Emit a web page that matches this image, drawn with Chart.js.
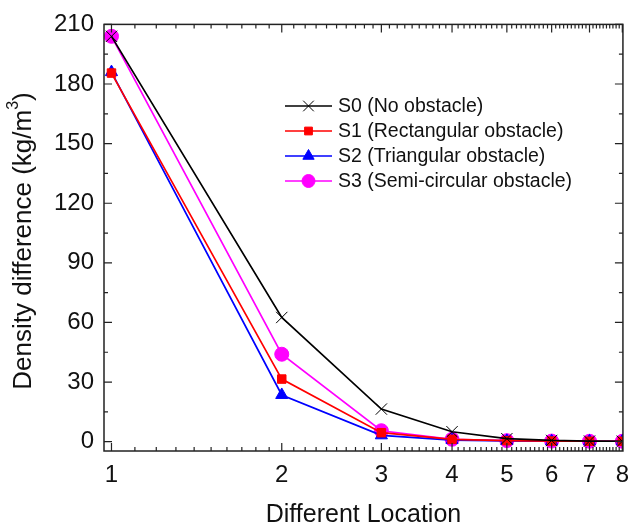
<!DOCTYPE html>
<html>
<head>
<meta charset="utf-8">
<script src="https://cdn.jsdelivr.net/npm/chart.js@4/dist/chart.umd.min.js"></script>
<style>
  html, body { margin: 0; padding: 0; background: #fff; }
  #wrap { width: 639px; height: 526px; }
</style>
</head>
<body>
<div id="wrap"><canvas id="chart" width="639" height="526"></canvas></div>
<script>
// ---- data ----
const locations = [1, 2, 3, 4, 5, 6, 7, 8];
const s0 = [204, 62.5, 16.4, 5, 1.5, 0.6, 0.3, 0.2];
const s1 = [185.5, 31.5, 4.5, 1.2, 0.5, 0.3, 0.2, 0.2];
const s2 = [186, 23.5, 3.2, 0.8, 0.4, 0.2, 0.2, 0.2];
const s3 = [204, 44, 5.5, 1.2, 0.5, 0.3, 0.2, 0.2];
const seriesNames = ["S0 (No obstacle)", "S1 (Rectangular obstacle)", "S2 (Triangular obstacle)", "S3 (Semi-circular obstacle)"];
const yTicks = [0, 30, 60, 90, 120, 150, 180, 210];
// -----------------------------------

const FONT = "'Liberation Sans', Arial, sans-serif";
const toXY = vals => vals.map((v, i) => ({ x: locations[i], y: v }));

const styles = [
  { color: "#000000", point: "crossRot", r: 8 },
  { color: "#ff0000", point: "rect", r: 6 },
  { color: "#0000ff", point: "triangle", r: 7 },
  { color: "#ff00ff", point: "circle", r: 7 }
];

const datasets = [s0, s1, s2, s3].map((vals, i) => ({
  label: seriesNames[i],
  data: toXY(vals),
  borderColor: styles[i].color,
  backgroundColor: styles[i].color,
  borderWidth: 1.7,
  pointStyle: styles[i].point,
  pointRadius: styles[i].r,
  pointBorderWidth: 1,
  pointBorderColor: styles[i].color,
  pointBackgroundColor: styles[i].color,
  tension: 0
}));

// frame, inward ticks on all four sides, y title with superscript, in-plot legend
const framePlugin = {
  id: "frame",
  afterDraw(chart) {
    const { ctx, chartArea: a, scales } = chart;
    const xs = scales.x, ys = scales.y;
    ctx.save();
    ctx.strokeStyle = "#222";
    ctx.lineWidth = 1.5;
    ctx.strokeRect(a.left, a.top, a.right - a.left, a.bottom - a.top);
    ctx.lineWidth = 1.2;
    ctx.beginPath();
    for (let v = 0; v <= 210; v += 15) {
      const y = ys.getPixelForValue(v);
      const len = v % 30 === 0 ? 8 : 4;
      ctx.moveTo(a.left, y); ctx.lineTo(a.left + len, y);
      ctx.moveTo(a.right, y); ctx.lineTo(a.right - len, y);
    }
    for (let k = 10; k <= 80; k++) {
      const x = xs.getPixelForValue(k / 10);
      if (x > a.right + 0.5) continue;
      const len = k % 10 === 0 ? 8 : 4;
      ctx.moveTo(x, a.bottom); ctx.lineTo(x, a.bottom - len);
      ctx.moveTo(x, a.top); ctx.lineTo(x, a.top + len);
    }
    ctx.stroke();

    // y axis title
    ctx.save();
    ctx.translate(24, 241);
    ctx.rotate(-Math.PI / 2);
    ctx.fillStyle = "#111";
    ctx.textBaseline = "middle";
    const main = "Density difference (kg/m", sup = "3", tail = ")";
    ctx.font = "26px " + FONT;
    const wMain = ctx.measureText(main).width, wTail = ctx.measureText(tail).width;
    ctx.font = "16px " + FONT;
    const wSup = ctx.measureText(sup).width;
    const x0 = -(wMain + wSup + wTail) / 2;
    ctx.textAlign = "left";
    ctx.font = "26px " + FONT;
    ctx.fillText(main, x0, 0);
    ctx.font = "16px " + FONT;
    ctx.fillText(sup, x0 + wMain, -10);
    ctx.font = "26px " + FONT;
    ctx.fillText(tail, x0 + wMain + wSup, 0);
    ctx.restore();

    // legend
    const lx0 = 285, lx1 = 332, tx = 338, rowY = [106, 131, 156, 181];
    ctx.font = "19.5px " + FONT;
    ctx.textBaseline = "middle";
    datasets.forEach((d, i) => {
      const y = rowY[i];
      ctx.strokeStyle = d.borderColor;
      ctx.fillStyle = d.borderColor;
      ctx.lineWidth = 1.7;
      ctx.beginPath(); ctx.moveTo(lx0, y); ctx.lineTo(lx1, y); ctx.stroke();
      ctx.lineWidth = 1;
      Chart.helpers.drawPoint(ctx, {
        pointStyle: d.pointStyle, radius: d.pointRadius - 0.5, rotation: 0, borderWidth: 1
      }, (lx0 + lx1) / 2, y);
      ctx.fillStyle = "#111";
      ctx.fillText(d.label, tx, y + 1);
    });
    ctx.restore();
  }
};

const chart = new Chart(document.getElementById("chart").getContext("2d"), {
  type: "line",
  data: { datasets },
  options: {
    responsive: false,
    animation: false,
    layout: { padding: { top: 24, right: 6, left: 0, bottom: 0 } },
    plugins: { legend: { display: false }, tooltip: { enabled: false } },
    scales: {
      x: {
        type: "logarithmic",
        min: 0.97,
        max: 8.02,
        afterBuildTicks: s => { s.ticks = locations.map(v => ({ value: v })); },
        afterFit: s => { s.height = 75; },
        grid: { display: false, drawTicks: false },
        border: { display: false },
        ticks: {
          autoSkip: false, maxRotation: 0, padding: 10,
          color: "#111", font: { family: FONT, size: 24 },
          callback: v => String(v)
        },
        title: {
          display: true, text: "Different Location",
          color: "#111", font: { family: FONT, size: 25 }, padding: { top: 4, bottom: -4 }
        }
      },
      y: {
        min: -4.7,
        max: 210,
        afterBuildTicks: s => { s.ticks = yTicks.map(v => ({ value: v })); },
        afterFit: s => { s.width = 104; },
        grid: { display: false, drawTicks: false },
        border: { display: false },
        ticks: {
          padding: 10,
          color: "#111", font: { family: FONT, size: 24 }
        },
        title: { display: false }
      }
    }
  },
  plugins: [framePlugin]
});
</script>
</body>
</html>
